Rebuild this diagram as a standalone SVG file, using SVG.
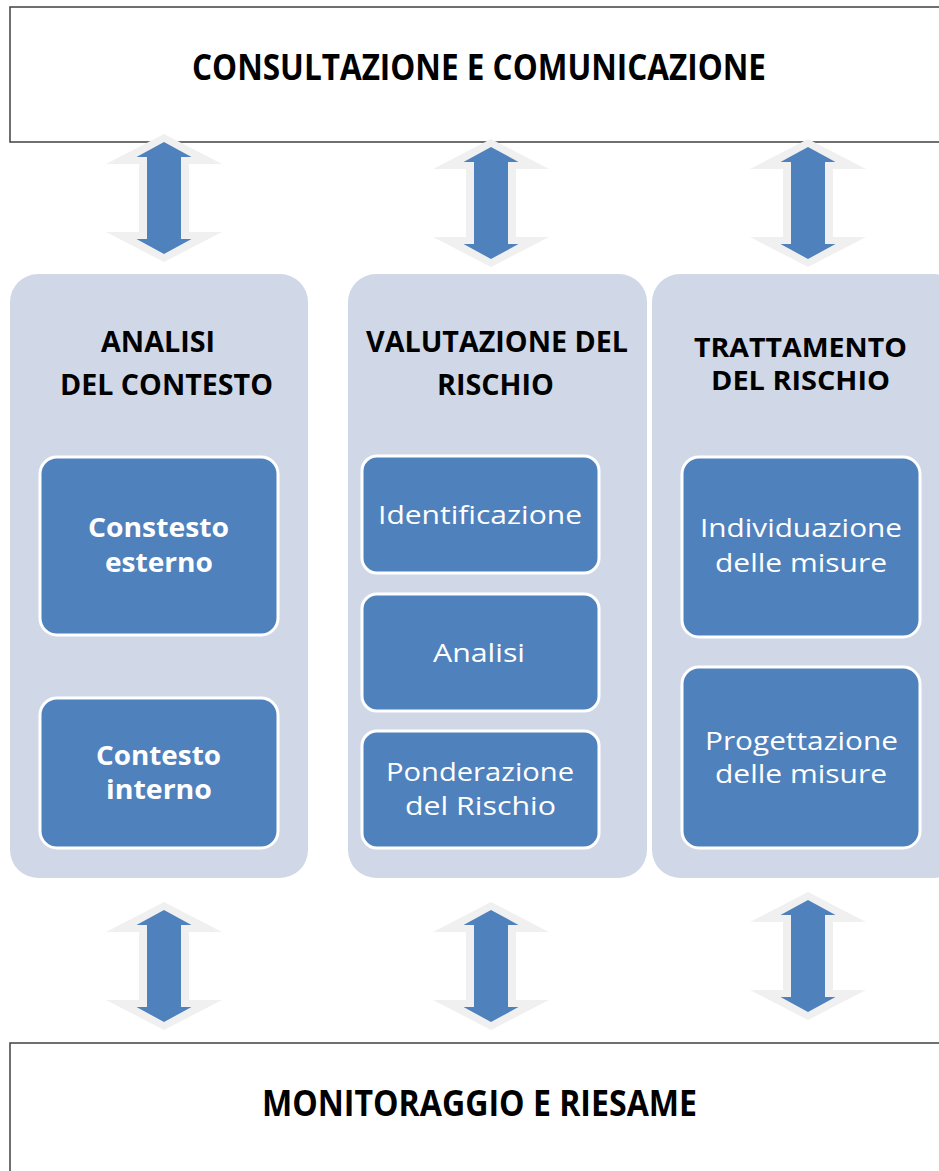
<svg xmlns="http://www.w3.org/2000/svg" xmlns:xlink="http://www.w3.org/1999/xlink" width="939" height="1171" viewBox="0 0 939 1171">
  <style>
    .frame { fill: #ffffff; stroke: #404040; stroke-width: 1.5; }
    .panel { fill: #d0d8e8; }
    .inner { fill: #4f81bd; stroke: #ffffff; stroke-width: 3; }
    .big { font-family: "Open Sans", "Liberation Sans", sans-serif; font-weight: bold; font-size: 36px; fill: #000000; text-anchor: middle; }
    .title { font-family: "Open Sans", "Liberation Sans", sans-serif; font-weight: bold; font-size: 29px; fill: #000000; text-anchor: middle; }
    .title2 { font-family: "Open Sans", "Liberation Sans", sans-serif; font-weight: bold; font-size: 26px; fill: #000000; text-anchor: middle; }
    .lblb { font-family: "Open Sans", "Liberation Sans", sans-serif; font-weight: bold; font-size: 27px; fill: #ffffff; text-anchor: middle; }
    .lbl { font-family: "Open Sans", "Liberation Sans", sans-serif; font-size: 26px; fill: #ffffff; text-anchor: middle; }
    .halo { fill: #f0f0f0; }
    .arr { fill: #4f81bd; }
  </style>
  <defs>
    <g id="dblarrow">
      <path class="halo" d="M0,-8 L58,22 L25,22 L25,90 L58,90 L0,120 L-58,90 L-25,90 L-25,22 L-58,22 Z"/>
      <path class="arr" d="M0,0 L27.5,15 L17,15 L17,97 L27.5,97 L0,112 L-27.5,97 L-17,97 L-17,15 L-27.5,15 Z"/>
    </g>
  </defs>

  <g id="consultazione">
    <rect class="frame" x="10" y="7" width="945" height="135"/>
    <text class="big" x="479" y="80" textLength="574" lengthAdjust="spacingAndGlyphs">CONSULTAZIONE E COMUNICAZIONE</text>
  </g>

  <g id="monitoraggio">
    <rect class="frame" x="10" y="1043" width="945" height="140"/>
    <text class="big" x="479.5" y="1116" textLength="435" lengthAdjust="spacingAndGlyphs">MONITORAGGIO E RIESAME</text>
  </g>

  <g id="analisi-contesto">
    <rect class="panel" x="10" y="274" width="298" height="604" rx="28" ry="28"/>
    <text class="title" x="158" y="352" textLength="114" lengthAdjust="spacingAndGlyphs">ANALISI</text>
    <text class="title" x="166.5" y="395" textLength="213" lengthAdjust="spacingAndGlyphs">DEL CONTESTO</text>
  </g>

  <g id="valutazione-rischio">
    <rect class="panel" x="348" y="274" width="299" height="604" rx="28" ry="28"/>
    <text class="title" x="497" y="352" textLength="262" lengthAdjust="spacingAndGlyphs">VALUTAZIONE DEL</text>
    <text class="title" x="495.5" y="395" textLength="117" lengthAdjust="spacingAndGlyphs">RISCHIO</text>
  </g>

  <g id="trattamento-rischio">
    <rect class="panel" x="652" y="274" width="310" height="604" rx="28" ry="28"/>
    <text class="title2" x="800.5" y="357" textLength="213" lengthAdjust="spacingAndGlyphs">TRATTAMENTO</text>
    <text class="title2" x="800.5" y="390" textLength="179" lengthAdjust="spacingAndGlyphs">DEL RISCHIO</text>
  </g>

  <g id="contesto-esterno">
    <rect class="inner" x="40" y="457" width="238" height="178" rx="17" ry="17"/>
    <text class="lblb" x="158.5" y="537" textLength="141" lengthAdjust="spacingAndGlyphs">Constesto</text>
    <text class="lblb" x="159" y="572" textLength="108" lengthAdjust="spacingAndGlyphs">esterno</text>
  </g>

  <g id="contesto-interno">
    <rect class="inner" x="40" y="698" width="238" height="150" rx="17" ry="17"/>
    <text class="lblb" x="158.5" y="765" textLength="125" lengthAdjust="spacingAndGlyphs">Contesto</text>
    <text class="lblb" x="159" y="799" textLength="106" lengthAdjust="spacingAndGlyphs">interno</text>
  </g>

  <g id="identificazione">
    <rect class="inner" x="362" y="456" width="237" height="117" rx="15" ry="15"/>
    <text class="lbl" x="480" y="524" textLength="204" lengthAdjust="spacingAndGlyphs">Identificazione</text>
  </g>

  <g id="analisi">
    <rect class="inner" x="362" y="594" width="237" height="117" rx="15" ry="15"/>
    <text class="lbl" x="479" y="662" textLength="92" lengthAdjust="spacingAndGlyphs">Analisi</text>
  </g>

  <g id="ponderazione">
    <rect class="inner" x="362" y="731" width="237" height="117" rx="15" ry="15"/>
    <text class="lbl" x="480" y="781" textLength="188" lengthAdjust="spacingAndGlyphs">Ponderazione</text>
    <text class="lbl" x="480.5" y="815" textLength="151" lengthAdjust="spacingAndGlyphs">del Rischio</text>
  </g>

  <g id="individuazione">
    <rect class="inner" x="682" y="457" width="238" height="180" rx="17" ry="17"/>
    <text class="lbl" x="801" y="537" textLength="202" lengthAdjust="spacingAndGlyphs">Individuazione</text>
    <text class="lbl" x="801" y="572" textLength="172" lengthAdjust="spacingAndGlyphs">delle misure</text>
  </g>

  <g id="progettazione">
    <rect class="inner" x="682" y="667" width="238" height="181" rx="17" ry="17"/>
    <text class="lbl" x="801.5" y="750" textLength="193" lengthAdjust="spacingAndGlyphs">Progettazione</text>
    <text class="lbl" x="801" y="783" textLength="172" lengthAdjust="spacingAndGlyphs">delle misure</text>
  </g>

  <g id="connectors">
    <use xlink:href="#dblarrow" transform="translate(164,142)"/>
    <use xlink:href="#dblarrow" transform="translate(491,147)"/>
    <use xlink:href="#dblarrow" transform="translate(808,147)"/>
    <use xlink:href="#dblarrow" transform="translate(164,910)"/>
    <use xlink:href="#dblarrow" transform="translate(491,910)"/>
    <use xlink:href="#dblarrow" transform="translate(808,900)"/>
  </g>
</svg>
